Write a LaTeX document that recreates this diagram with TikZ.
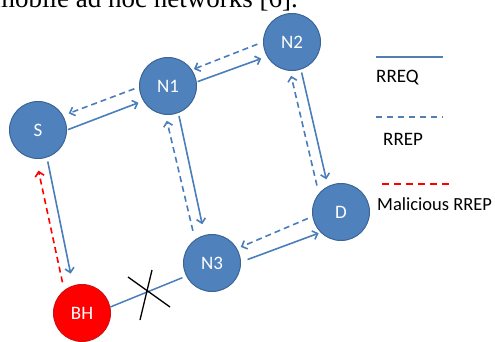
\documentclass[tikz,border=0pt]{standalone}
\usepackage{fontspec}
\setmainfont{Carlito}
\newfontfamily\bodyfont{Liberation Serif}
\usetikzlibrary{arrows.meta}

\definecolor{nodeblue}{HTML}{4F81BD}
\definecolor{rimblue}{HTML}{3A6595}
\definecolor{linkblue}{HTML}{4A7EBB}
\definecolor{rimred}{HTML}{D01010}

\begin{document}
\begin{tikzpicture}[x=1pt, y=1pt,
        >={Straight Barb[length=4.5pt, width=9pt]},
        host/.style={circle, minimum size=57pt, inner sep=0pt, fill=nodeblue,
            draw=rimblue, line width=1pt, text=white, font=\fontsize{19}{22}\selectfont},
        rreq/.style={->, linkblue, line width=1.6pt},
        rrep/.style={->, linkblue, line width=1.6pt, dash pattern=on 6pt off 4pt},
        fake/.style={->, red, line width=1.6pt, dash pattern=on 6pt off 4pt},
        key/.style={font=\fontsize{19}{22}\selectfont, anchor=base west, inner sep=0pt}]

        \useasboundingbox (0,0) rectangle (495,341);
        \clip (0,0) rectangle (495,341);

        % line of running text above the figure
        \node[anchor=base east, inner sep=0pt, font=\bodyfont\fontsize{27}{30}\selectfont]
            (caption) at (298,333) {mobile ad hoc networks [6].};

        % hosts
        \node[host] (S)  at (38,211)  {S};
        \node[host] (N1) at (168,255) {N1};
        \node[host] (N2) at (292,299) {N2};
        \node[host] (D)  at (341,129) {D};
        \node[host] (N3) at (212,78)  {N3};
        \node[host, fill=red, draw=rimred] (BH) at (82,28) {BH};

        % route requests
        \draw[rreq, shorten <=1pt, shorten >=5pt] (S.0) -- (N1.211);
        \draw[rreq, shorten <=1pt, shorten >=6pt] (N1.8) -- (N2.210);
        \draw[rreq, shorten <=3pt, shorten >=7pt] (N2.-72) -- (D.117);
        \draw[rreq, shorten <=3pt, shorten >=11pt] (N1.-69) -- (N3.105);
        \draw[rreq, shorten <=7pt, shorten >=2pt] (N3.2) -- (D.225);
        \draw[rreq, shorten <=4pt, shorten >=12pt] (S.-72) -- (BH.108);

        % route replies
        \draw[rrep, shorten <=5pt, shorten >=6pt] (N1.182) -- (S.30);
        \draw[rrep, shorten <=6pt, shorten >=2pt] (N2.180) -- (N1.34);
        \draw[rrep, shorten <=8pt, shorten >=5pt] (D.140) -- (N2.-94);
        \draw[rrep, shorten <=9pt, shorten >=6pt] (N3.126) -- (N1.-95);
        \draw[rrep, shorten <=5pt, shorten >=4pt] (D.189) -- (N3.30);

        % forged reply from the black hole
        \draw[fake, shorten <=8pt, shorten >=12pt] (BH.128) -- (S.-94);

        % broken link
        \draw[linkblue, line width=1.5pt, shorten >=4pt] (BH.12) -- (N3.207);
        \coordinate (cut) at (147,49);
        \draw[line width=1.3pt] (cut) +(-19,15) -- +(23,-15);
        \draw[line width=1.3pt] (cut) +(5,22) -- +(-7,-28);

        % legend
        \coordinate (reqa) at (376,284);
        \coordinate (reqb) at (443,284);
        \draw[linkblue!85!gray, line width=2pt] (reqa) -- (reqb);
        \node[key] (reqtext) at (376,259) {RREQ};

        \coordinate (repa) at (376,224);
        \coordinate (repb) at (443,224);
        \draw[linkblue!85!gray, line width=1.5pt, dash pattern=on 6pt off 5pt] (repa) -- (repb);
        \node[key] (reptext) at (383,196) {RREP};

        \coordinate (fakea) at (382,157);
        \coordinate (fakeb) at (449,157);
        \draw[red, line width=2pt, dash pattern=on 7pt off 5pt] (fakea) -- (fakeb);
        \node[key, font=\fontsize{18.5}{22}\selectfont] (faketext) at (377,131) {Malicious RREP};
\end{tikzpicture}
\end{document}
